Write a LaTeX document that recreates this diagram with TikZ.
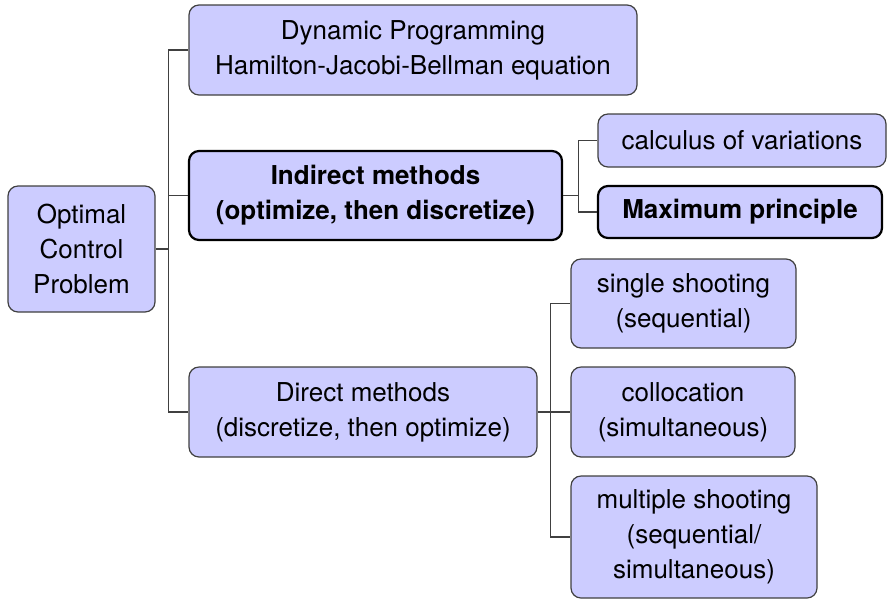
\documentclass[tikz,border=0pt]{standalone}
\usepackage{fontspec}
\setmainfont{TeX Gyre Heros}
\usetikzlibrary{positioning}
\definecolor{boxblue}{RGB}{204,204,255}

\tikzset{
  method/.style={draw=black!75, fill=boxblue, rounded corners=5pt, align=center,
    inner sep=0pt, line width=0.6pt, font=\fontsize{13}{17.5}\selectfont},
  keymethod/.style={method, draw=black, line width=1.1pt,
    font=\fontsize{13}{17.5}\selectfont\bfseries},
  branch/.style={draw=black!75, line width=0.6pt}
}

\begin{document}
\begin{tikzpicture}[x=0.5pt,y=-0.5pt]
  \useasboundingbox (0,0) rectangle (888,601);

  % problem
  \node[method, minimum width=73.5pt, minimum height=63pt] (ocp) at (81.5,249) {Optimal\\Control\\Problem};

  % first level
  \node[method, minimum width=224pt, minimum height=45pt] (dp) at (413,50) {Dynamic Programming\\Hamilton-Jacobi-Bellman equation};
  \node[keymethod, minimum width=186.5pt, minimum height=44.5pt] (ind) at (375.5,195.5) {Indirect methods\\(optimize, then discretize)};
  \node[method, minimum width=174pt, minimum height=45pt] (dir) at (363,412) {Direct methods\\(discretize, then optimize)};

  % indirect branch
  \node[method, minimum width=144pt, minimum height=26.5pt] (cv) at (742,140.5) {calculus of variations};
  \node[keymethod, minimum width=142pt, minimum height=26pt] (mp) at (740,212) {Maximum principle};

  % direct branch
  \node[method, minimum width=112.5pt, minimum height=44.5pt] (ss) at (683.5,303.5) {single shooting\\(sequential)};
  \node[method, minimum width=112pt, minimum height=45pt] (col) at (683,412) {collocation\\(simultaneous)};
  \node[method, minimum width=123pt, minimum height=61pt] (ms) at (694,537) {multiple shooting\\(sequential/\\simultaneous)};

  % connectors
  \coordinate (j1) at ([xshift=6.5pt]ocp.east);
  \coordinate (j2) at ([xshift=7.5pt]ind.east);
  \coordinate (j3) at ([xshift=6.5pt]dir.east);
  \draw[branch] (ocp.east) -- (j1);
  \draw[branch] (ind.east) -- (j2);
  \draw[branch] (dir.east) -- (j3);
  \foreach \t in {dp,ind,dir}
    \draw[branch] (j1) |- (\t.west);
  \foreach \t in {cv,mp}
    \draw[branch] (j2) |- (\t.west);
  \foreach \t in {ss,col,ms}
    \draw[branch] (j3) |- (\t.west);
\end{tikzpicture}
\end{document}
